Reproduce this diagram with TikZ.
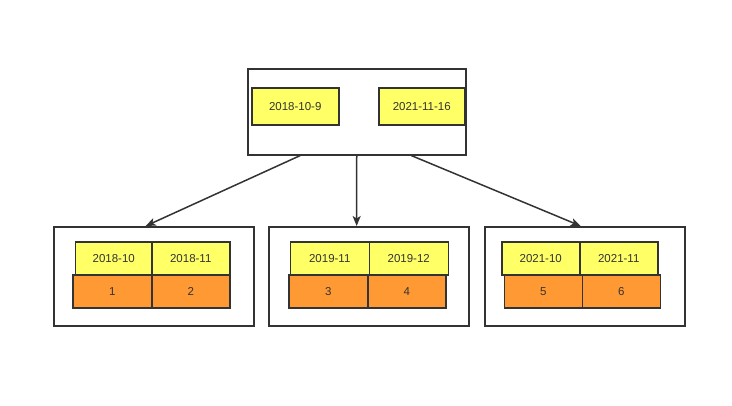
\documentclass[tikz,border=0pt]{standalone}
\usepackage{fontspec}
\setmainfont{Liberation Sans}
\usetikzlibrary{arrows.meta,calc}
\definecolor{ln}{HTML}{333333}
\definecolor{yel}{HTML}{FFFF66}
\definecolor{org}{HTML}{FF9933}
\tikzset{
  outer/.style={draw=ln, line width=1.5pt, fill=white, inner sep=0pt, anchor=north west},
  ycell/.style={draw=ln, line width=1.5pt, fill=yel, inner sep=0pt, anchor=north west, text=ln, font=\fontsize{11.5}{12}\selectfont},
  ocell/.style={draw=ln, line width=1.5pt, fill=org, inner sep=0pt, anchor=north west, text=ln, font=\fontsize{11.5}{12}\selectfont},
  link/.style={draw=ln, line width=1.5pt, -{Stealth[length=10pt,width=8pt,inset=2.5pt]}}
}
\begin{document}
\begin{tikzpicture}[x=1pt,y=-1pt]
\useasboundingbox (0,0) rectangle (732,405);
% top
\node[outer, minimum width=218pt, minimum height=86pt] (top) at (247,68) {};
\node[ycell, minimum width=87pt, minimum height=37pt] (t1) at (251,87) {2018-10-9};
\node[ycell, minimum width=86pt, minimum height=37pt] (t2) at (378,87) {2021-11-16};
% bottom boxes
\node[outer, minimum width=200pt, minimum height=99pt] (b1) at (53,226) {};
\node[outer, minimum width=200pt, minimum height=99pt] (b2) at (268,226) {};
\node[outer, minimum width=200pt, minimum height=99pt] (b3) at (484,226) {};
% left cells
\node[ocell, minimum width=79pt, minimum height=33pt] (o1) at (72,274) {1};
\node[ocell, minimum width=78pt, minimum height=33pt] (o2) at (151,274) {2};
\node[ycell, minimum width=77pt, minimum height=33pt] (y1) at (74.5,241) {2018-10};
\node[ycell, minimum width=78pt, minimum height=33pt] (y2) at (151,241) {2018-11};
% middle cells
\node[ocell, minimum width=79pt, minimum height=33pt] (o3) at (288,274) {3};
\node[ocell, minimum width=78pt, minimum height=33pt] (o4) at (367,274) {4};
\node[ycell, minimum width=79pt, minimum height=33pt] (y3) at (289.5,241) {2019-11};
\node[ycell, minimum width=79pt, minimum height=33pt] (y4) at (368.5,241) {2019-12};
% right cells
\node[ocell, minimum width=78pt, minimum height=33pt] (o5) at (503.5,274) {5};
\node[ocell, minimum width=78pt, minimum height=33pt] (o6) at (581.5,274) {6};
\node[ycell, minimum width=78pt, minimum height=33pt] (y5) at (501,241) {2021-10};
\node[ycell, minimum width=78pt, minimum height=33pt] (y6) at (579,241) {2021-11};
% arrows
\draw[link] ($(top.south west)!0.243!(top.south east)$) -- ($(b1.north west)!0.46!(b1.north east)$);
\draw[link] ($(top.south west)!0.50!(top.south east)$) -- ($(b2.north west)!0.44!(b2.north east)$);
\draw[link] ($(top.south west)!0.748!(top.south east)$) -- ($(b3.north west)!0.48!(b3.north east)$);
\end{tikzpicture}
\end{document}
